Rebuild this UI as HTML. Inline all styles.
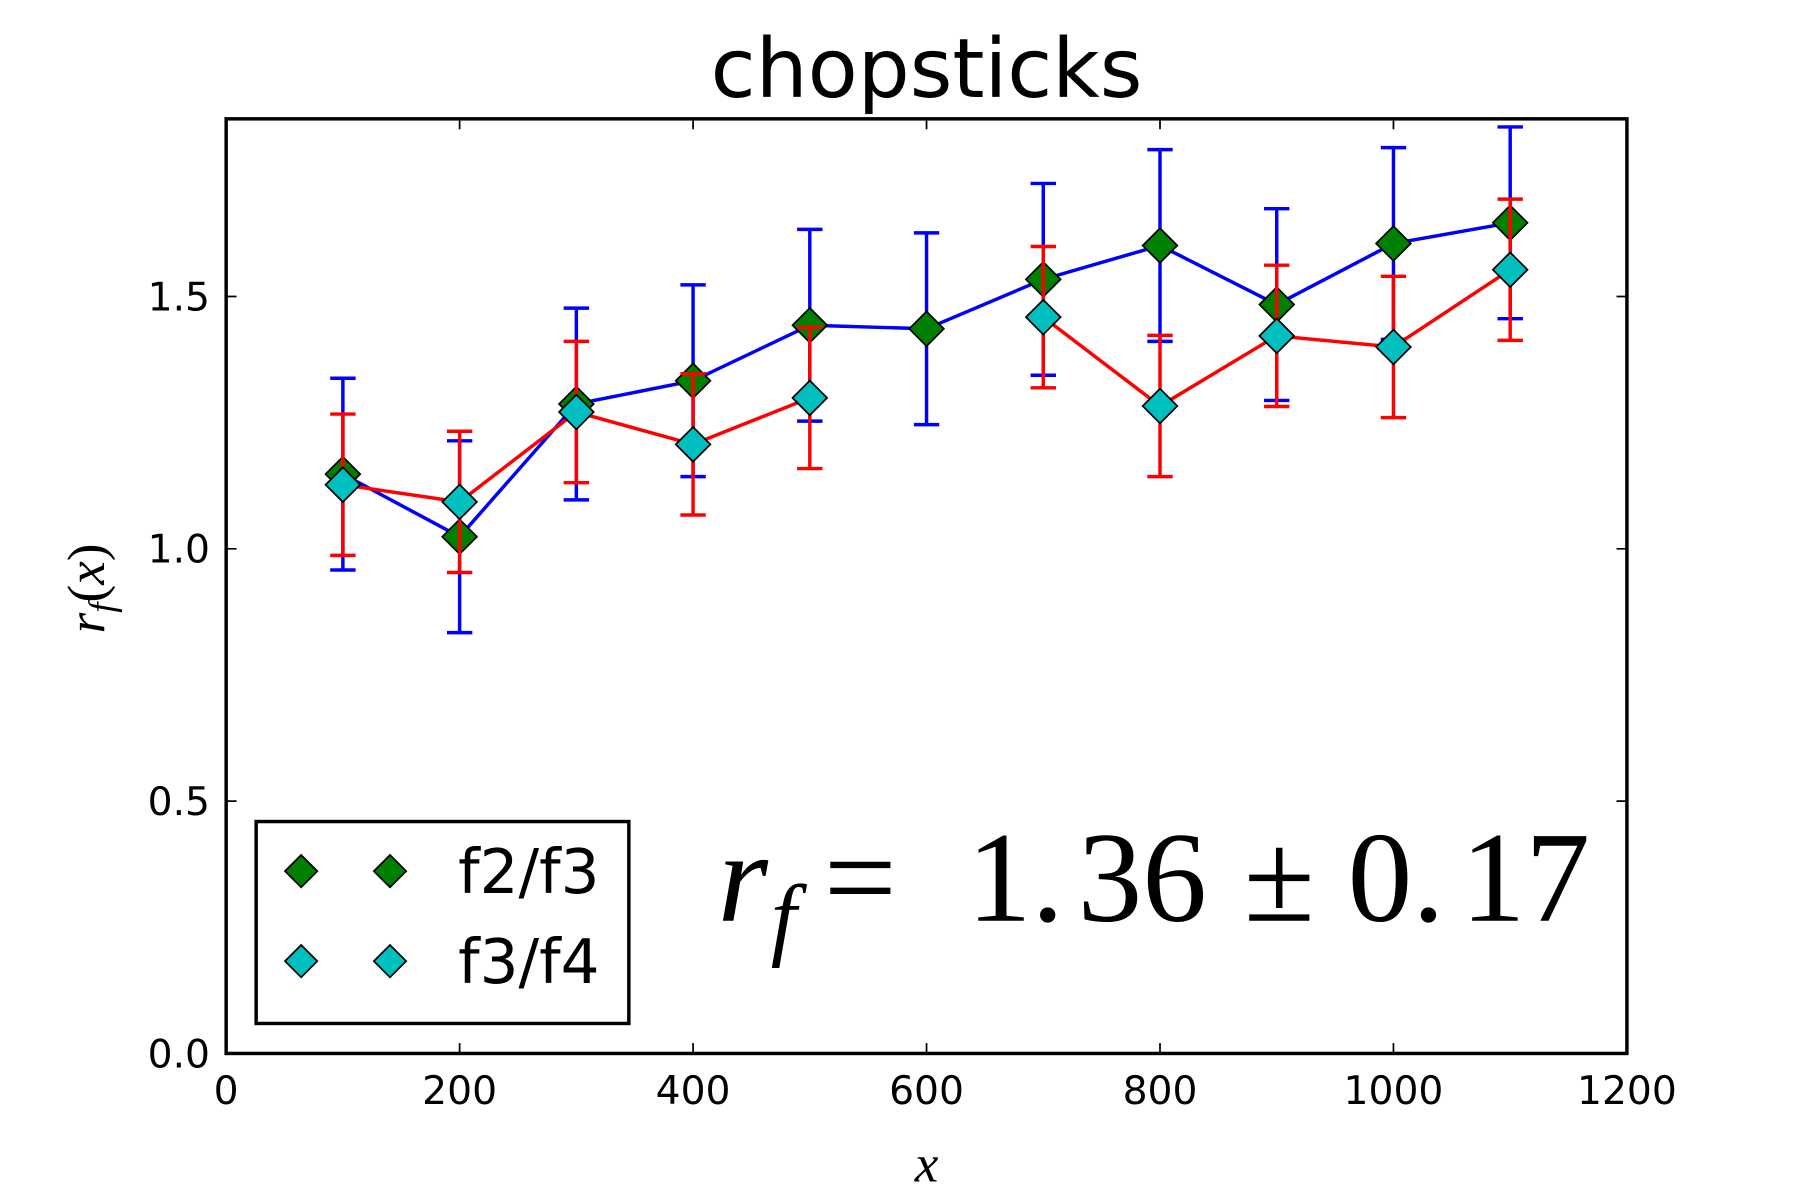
<!DOCTYPE html>
<html><head><meta charset="utf-8"><style>
html,body{margin:0;padding:0;background:#fff}
svg{display:block}
text{font-family:"DejaVu Sans","Liberation Sans",sans-serif}
text.serif,.serif text{font-family:"Liberation Serif","DejaVu Serif",serif}
</style></head><body>
<svg id="chart" width="1800" height="1200" viewBox="0 0 1560 1040" xmlns="http://www.w3.org/2000/svg">
<text x="803" y="84" font-size="71" text-anchor="middle">chopsticks</text>
<g id="plot"></g>
<g id="axes"></g>
<text class="serif" x="803" y="1024" font-size="46" font-style="italic" text-anchor="middle">x</text>
<text class="serif" x="90" y="510" font-size="46" font-style="italic" text-anchor="middle" transform="rotate(-90 90 510)">r<tspan font-size="32" dy="9">f</tspan><tspan dy="-9" font-style="normal">(</tspan>x<tspan font-style="normal">)</tspan></text>
<g>
<rect x="222" y="712" width="323" height="175" fill="#fff" stroke="#000" stroke-width="3"/>
<g>
<polygon points="261,741 275,755 261,769 247,755" fill="#008000" stroke="#000" stroke-width="1.5"/>
<polygon points="338,741 352,755 338,769 324,755" fill="#008000" stroke="#000" stroke-width="1.5"/>
<text x="397" y="774" font-size="53">f2/f3</text>
</g>
<g>
<polygon points="261,819 275,833 261,847 247,833" fill="#00bfbf" stroke="#000" stroke-width="1.5"/>
<polygon points="338,819 352,833 338,847 324,833" fill="#00bfbf" stroke="#000" stroke-width="1.5"/>
<text x="397" y="852" font-size="53">f3/f4</text>
</g>
</g>
<g class="serif" font-size="112">
<text x="622" y="798" font-style="italic">r</text>
<text x="668" y="822" font-size="80" font-style="italic">f</text>
<text x="714" y="798">=</text>
<text x="838" y="798">1.</text>
<text x="934" y="798">36</text>
<text x="1078" y="798">±</text>
<text x="1168" y="798">0.</text>
<text x="1266" y="798">17</text>
</g>
</svg>
<script>
const xCats = [100,200,300,400,500,600,700,800,900,1000,1100];
const s1Values = [1.148,1.024,1.287,1.333,1.443,1.436,1.534,1.601,1.484,1.605,1.646];
const s1Errors = [0.19,0.19,0.19,0.19,0.19,0.19,0.19,0.19,0.19,0.19,0.19];
const s2Values = [1.127,1.093,1.271,1.207,1.299,null,1.459,1.283,1.422,1.400,1.553];
const s2Errors = [0.14,0.14,0.14,0.14,0.14,null,0.14,0.14,0.14,0.14,0.14];
const xTicks = [0,200,400,600,800,1000,1200];
const yTicks = [0.0,0.5,1.0,1.5];
const yTickLabels = ["0.0","0.5","1.0","1.5"];

const L=196,R=1410,T=103,B=913,XMAX=1200,YMAX=1.852;
const xs=v=>L+(R-L)*v/XMAX;
const ys=v=>B-(B-T)*v/YMAX;
const NS="http://www.w3.org/2000/svg";
const plot=document.getElementById('plot');
const axes=document.getElementById('axes');
function mk(tag,attrs,parent){const e=document.createElementNS(NS,tag);for(const k in attrs)e.setAttribute(k,attrs[k]);parent.appendChild(e);return e;}

function series(xv,yv,ev,lineColor,fill,name){
  const g=mk('g',{},plot);
  
  
  let d='',pen=false;
  xv.forEach((x,i)=>{
    if(yv[i]==null){pen=false;return;}
    d+=(pen?'L':'M')+xs(x)+','+ys(yv[i]);pen=true;
  });
  const line=mk('path',{d:d,fill:'none',stroke:lineColor,'stroke-width':3},g);
  
  
  xv.forEach((x,i)=>{
    if(yv[i]==null)return;
    const cx=xs(x),top=ys(yv[i]+ev[i]),bot=ys(yv[i]-ev[i]);
    const eb=mk('path',{d:`M${cx},${top}V${bot}M${cx-11},${top}h22M${cx-11},${bot}h22`,stroke:lineColor,'stroke-width':3,fill:'none'},g);
    
    
  });
  xv.forEach((x,i)=>{
    if(yv[i]==null)return;
    const cx=xs(x),cy=ys(yv[i]);
    const m=mk('polygon',{points:`${cx},${cy-15} ${cx+15},${cy} ${cx},${cy+15} ${cx-15},${cy}`,fill:fill,stroke:'#000','stroke-width':1.5},g);
    
    
  });
}
series(xCats,s1Values,s1Errors,'#0000ff','#008000','series-f2-f3');
series(xCats,s2Values,s2Errors,'#ff0000','#00bfbf','series-f3-f4');

const frame=mk('rect',{x:L,y:T,width:R-L,height:B-T,fill:'none',stroke:'#000','stroke-width':3},axes);


xTicks.forEach(v=>{
  const x=xs(v);
  const t=mk('path',{d:`M${x},${B}v-9M${x},${T}v9`,stroke:'#000','stroke-width':1.5},axes);
  
  
  const lb=mk('text',{x:x,y:B+44,'font-size':34,'text-anchor':'middle'},axes);
  lb.textContent=String(v);
  
  
});
yTicks.forEach((v,i)=>{
  const y=ys(v);
  const t=mk('path',{d:`M${L},${y}h9M${R},${y}h-9`,stroke:'#000','stroke-width':1.5},axes);
  
  
  const lb=mk('text',{x:L-14,y:y+12,'font-size':34,'text-anchor':'end'},axes);
  lb.textContent=yTickLabels[i];
  
  
});
</script>
</body></html>
